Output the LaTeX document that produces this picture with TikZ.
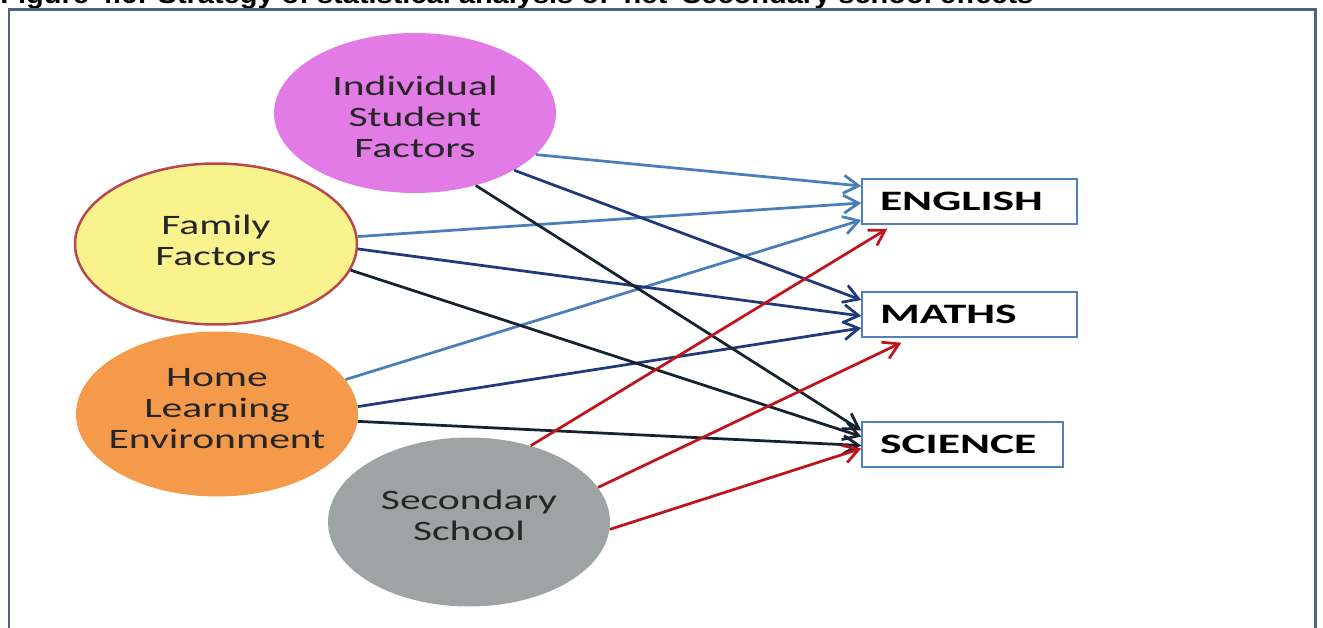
\documentclass[tikz,border=0pt]{standalone}
\usepackage{fontspec}
\usepackage{tikz}
\usetikzlibrary{arrows.meta,shapes.geometric,positioning,calc}
\newfontfamily\diagfont[FakeStretch=1.48]{Carlito}
\newfontfamily\subjfont[FakeStretch=1.62]{Carlito}
\newfontfamily\capfont[FakeStretch=1.1]{Liberation Sans}
\definecolor{framegray}{HTML}{4C6385}
\definecolor{indpink}{HTML}{E27BE5}
\definecolor{famyellow}{HTML}{F8F38C}
\definecolor{famred}{HTML}{B9484A}
\definecolor{homeorange}{HTML}{F5994A}
\definecolor{schoolgray}{HTML}{9EA3A3}
\definecolor{boxblue}{HTML}{4F81BD}
\definecolor{engblue}{HTML}{4A7EBB}
\definecolor{mathnavy}{HTML}{1F3A7B}
\definecolor{scidark}{HTML}{16222F}
\definecolor{schoolred}{HTML}{C0141C}
\tikzset{
  factortext/.style={align=center, inner sep=0pt, text=black!85,
    font=\diagfont\fontsize{16}{17.6}\selectfont},
  factor/.style n args={2}{ellipse, minimum width=5.64cm, minimum height=3.2cm, inner sep=0pt,
    label={[factortext, yshift=#2]center:#1}},
  subject/.style={draw=boxblue, line width=0.03cm, fill=white, minimum height=0.9cm,
    inner xsep=0.36cm, text width=#1, align=left,
    font=\subjfont\bfseries\fontsize{16}{17.6}\selectfont},
  link/.style={line width=0.055cm, -{Straight Barb[length=0.3cm,width=0.36cm]}}
}
\begin{document}
\begin{tikzpicture}[x=0.02cm,y=-0.02cm]
\useasboundingbox (0,0) rectangle (1323,628);
% caption, cut at the top
\node[anchor=base west, inner sep=0pt, font=\capfont\bfseries\fontsize{15}{18}\selectfont] (cap) at (0,4)
  {Figure 4.6: Strategy of statistical analysis of 'net' Secondary school effects};
\draw[framegray, line width=0.06cm, fill=white] (9,10) rectangle (1315,660);
% factor groups
\node[factor={Individual\\Student\\Factors}{-0.07cm}, fill=indpink] (ind) at (415,113) {};
\node[factor={Family\\Factors}{0.08cm}, fill=famyellow, draw=famred, line width=0.05cm, minimum height=3.22cm] (fam) at (216,244) {};
\node[factor={Home\\Learning\\Environment}{0.1cm}, fill=homeorange, minimum height=3.3cm] (home) at (217,414) {};
\node[factor={Secondary\\School}{0.14cm}, fill=schoolgray, minimum height=3.38cm] (school) at (469,522) {};
% outcomes
\node[subject=3.58cm] (eng) at (969.5,201.5) {ENGLISH};
\node[subject=3.58cm] (maths) at (969.5,314.5) {MATHS};
\node[subject=3.3cm] (sci) at (962.5,444.5) {SCIENCE};
% paths to English
\draw[link, engblue] (ind.-19) -- ([yshift=0.31cm]eng.west);
\draw[link, engblue] (fam.3) -- ([yshift=-0.03cm]eng.west);
\draw[link, engblue] (home.15) -- ([yshift=-0.37cm]eng.west);
% paths to Maths
\draw[link, mathnavy] (ind.-30) -- ([yshift=0.29cm]maths.west);
\draw[link, mathnavy] (fam.-2) -- ([yshift=-0.03cm]maths.west);
\draw[link, mathnavy] (home.3) -- ([yshift=-0.27cm]maths.west);
% paths to Science
\draw[link, scidark] (ind.-50) -- ([yshift=0.28cm]sci.west);
\draw[link, scidark] (fam.-11) -- ([yshift=0.16cm]sci.west);
\draw[link, scidark] (home.-3) -- ([yshift=-0.02cm]sci.west);
% school effects
\draw[link, schoolred] (school.51) -- ([xshift=0.52cm,yshift=-0.08cm]eng.south west);
\draw[link, schoolred] (school.15) -- ([xshift=0.8cm,yshift=-0.1cm]maths.south west);
\draw[link, schoolred] (school.-3) -- ([yshift=-0.08cm]sci.west);
\end{tikzpicture}
\end{document}
